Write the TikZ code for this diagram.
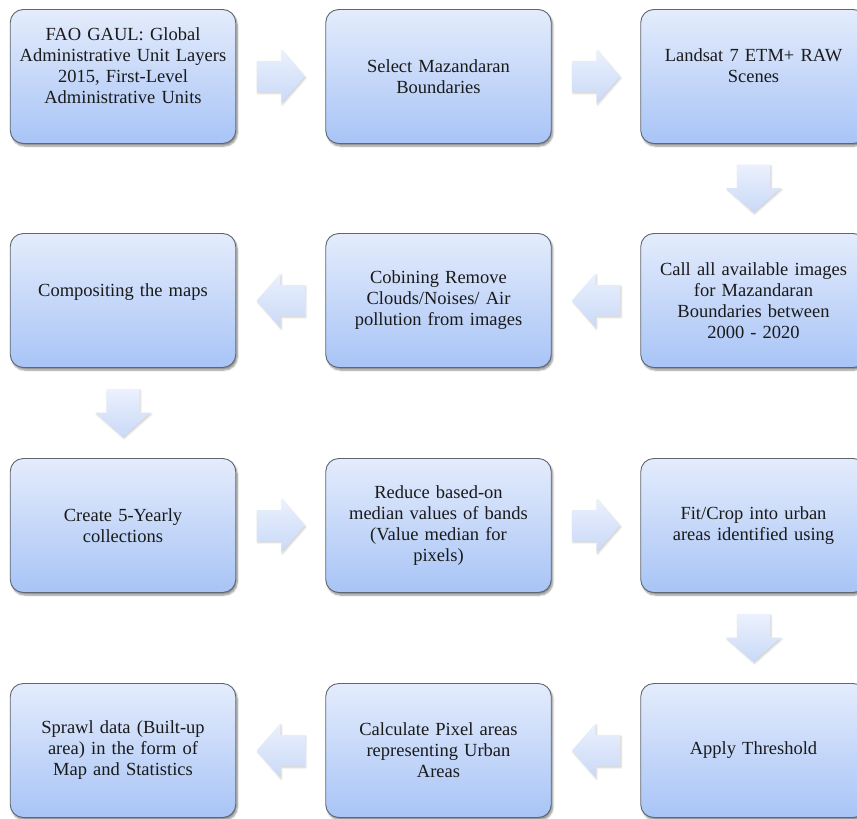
\documentclass[tikz,border=0pt]{standalone}
\usepackage{fontspec}
\setmainfont{Liberation Serif}
\usetikzlibrary{shadows.blur,calc}
\definecolor{boxtop}{HTML}{E4ECFC}
\definecolor{boxbot}{HTML}{A8C4F6}
\definecolor{boxline}{HTML}{5E6670}
\definecolor{arrtop}{HTML}{EBF1FD}
\definecolor{arrbot}{HTML}{C9D9F7}
\definecolor{txt}{HTML}{1A1A1A}
\begin{document}
\begin{tikzpicture}[x=1pt,y=1pt,
  stepbox/.style={rectangle, rounded corners=13pt, draw=boxline, line width=0.9pt,
    top color=boxtop, bottom color=boxbot, minimum width=225.5pt, minimum height=134pt,
    text width=214pt, align=center, inner sep=0pt, text=txt,
    font=\fontsize{18.5}{21}\selectfont,
    blur shadow={shadow xshift=1.5pt, shadow yshift=-2.5pt, shadow blur steps=6, shadow opacity=45}},
  blockarrow/.style={top color=arrtop, bottom color=arrbot, draw=none,
    blur shadow={shadow xshift=1pt, shadow yshift=-1.5pt, shadow blur steps=4, shadow opacity=20}}
]
\useasboundingbox (0,0) rectangle (857,-819);
\clip (0,0) rectangle (857,-819);

% boxes
\node[stepbox] (a1) at (123,-76.5) {FAO GAUL: Global\\Administrative Unit Layers\\2015, First-Level\\Administrative Units\\\mbox{}};
\node[stepbox] (a2) at (438.5,-76.5) {Select Mazandaran\\Boundaries};
\node[stepbox] (a3) at (753.5,-76.5) {Landsat 7 ETM+ RAW\\Scenes\\\mbox{}};

\node[stepbox] (b3) at (753.5,-300.5) {Call all available images\\for Mazandaran\\Boundaries between\\2000 - 2020};
\node[stepbox] (b2) at (438.5,-300.5) {Cobining Remove\\Clouds/Noises/ Air\\pollution from images};
\node[stepbox] (b1) at (123,-300.5) {Compositing the maps\\\mbox{}};

\node[stepbox] (c1) at (123,-525.5) {Create 5-Yearly\\collections};
\node[stepbox] (c2) at (438.5,-525.5) {Reduce based-on\\median values of bands\\(Value median for\\pixels)};
\node[stepbox] (c3) at (753.5,-525.5) {Fit/Crop into urban\\areas identified using};

\node[stepbox] (d3) at (753.5,-750.5) {Apply Threshold};
\node[stepbox] (d2) at (438.5,-750.5) {Calculate Pixel areas\\representing Urban\\Areas};
\node[stepbox] (d1) at (123,-750.5) {Sprawl data (Built-up\\area) in the form of\\Map and Statistics};

% right-pointing block arrows
\foreach \s/\t in {a1/a2, a2/a3, c1/c2, c2/c3}{
  \path[blockarrow, shift={($(\s.east)!0.5!(\t.west)$)}]
    (-24,15.5) -- (0.5,15.5) -- (0.5,27) -- (24,0) -- (0.5,-27) -- (0.5,-15.5) -- (-24,-15.5) -- cycle;
}
% left-pointing block arrows
\foreach \s/\t in {b3/b2, b2/b1, d3/d2, d2/d1}{
  \path[blockarrow, shift={($(\s.west)!0.5!(\t.east)$)}]
    (24,15.5) -- (-0.5,15.5) -- (-0.5,27) -- (-24,0) -- (-0.5,-27) -- (-0.5,-15.5) -- (24,-15.5) -- cycle;
}
% down-pointing block arrows
\foreach \s/\t in {a3/b3, b1/c1, c3/d3}{
  \path[blockarrow, shift={($(\s.south)!0.5!(\t.north)$)}]
    (-16.5,24) -- (16.5,24) -- (16.5,0.5) -- (27.5,0.5) -- (0,-24) -- (-27.5,0.5) -- (-16.5,0.5) -- cycle;
}
\end{tikzpicture}
\end{document}
